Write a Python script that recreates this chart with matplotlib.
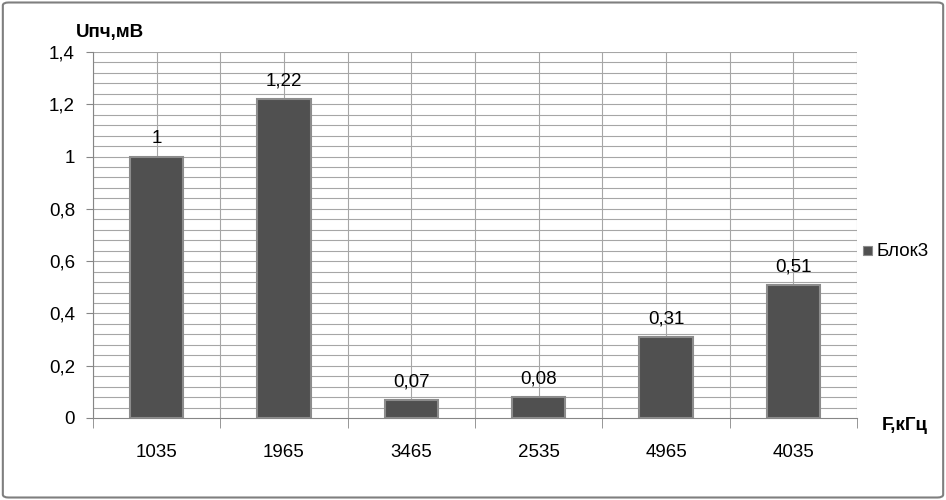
import numpy as np
import matplotlib.pyplot as plt
from matplotlib.patches import FancyBboxPatch

freqs = ['1035', '1965', '3465', '2535', '4965', '4035']
values = [1.0, 1.22, 0.07, 0.08, 0.31, 0.51]
labels = ['1', '1,22', '0,07', '0,08', '0,31', '0,51']
yticks = [0, 0.2, 0.4, 0.6, 0.8, 1.0, 1.2, 1.4]

plt.rcParams['font.family'] = ['Liberation Sans', 'DejaVu Sans']
fs = 13.5

fig = plt.figure(figsize=(9.46, 5), dpi=100)
# outer frame of the chart
fig.patches.append(FancyBboxPatch((0.003, 0.005), 0.994, 0.99, boxstyle='round,pad=0,rounding_size=0.006',
                                  transform=fig.transFigure, fill=False, edgecolor='#7f7f7f', linewidth=1.5))

ax = fig.add_axes([93/946, 1 - 418/500, (857-93)/946, (418-52)/500])
x = np.arange(len(freqs))

# grid: minor horizontal every 0.04, vertical at half categories
for y in np.arange(0.04, 1.41, 0.04):
    ax.axhline(y, color='#a6a6a6', linewidth=0.8, zorder=0)
for v in np.arange(-0.5, len(freqs), 0.5):
    ax.axvline(v, color='#a6a6a6', linewidth=0.8, zorder=0)

ax.bar(x, values, width=0.42, color='#505050', edgecolor='#8c8c8c', linewidth=1.5, zorder=3)
for xi, v, lab in zip(x, values, labels):
    ax.text(xi, v + 0.035, lab, ha='center', va='bottom', fontsize=fs)

ax.set_xlim(-0.5, len(freqs) - 0.5)
ax.set_ylim(0, 1.4)
ax.set_yticks(yticks)
ax.set_yticklabels([('%g' % t).replace('.', ',') for t in yticks], fontsize=fs)
ax.set_xticks(x)
ax.set_xticklabels(freqs, fontsize=fs)
ax.tick_params(axis='x', length=0, pad=19)
ax.tick_params(axis='y', length=5, color='#868686', pad=8)
# category boundary ticks below axis
ax.set_xticks(np.arange(-0.5, len(freqs), 1), minor=True)
ax.tick_params(axis='x', which='minor', length=7, color='#868686')

for s in ['top', 'right']:
    ax.spines[s].set_visible(False)
ax.spines['left'].set_color('#868686')
ax.spines['bottom'].set_color('#868686')

fig.text(76/946, 1 - 32/500, 'Uпч,мВ', fontsize=fs, fontweight='bold', va='center', ha='left')
fig.text(882/946, 1 - 425/500, 'F,кГц', fontsize=fs, fontweight='bold', va='center', ha='left')

# legend
fig.patches.append(plt.Rectangle((863/946, 1 - 255/500), 9/946, 9/500, transform=fig.transFigure,
                                 facecolor='#505050', edgecolor='#8c8c8c', linewidth=0.8))
fig.text(876/946, 1 - 251/500, 'Блок3', fontsize=fs, va='center', ha='left')

fig.savefig('out.png', dpi=100)
